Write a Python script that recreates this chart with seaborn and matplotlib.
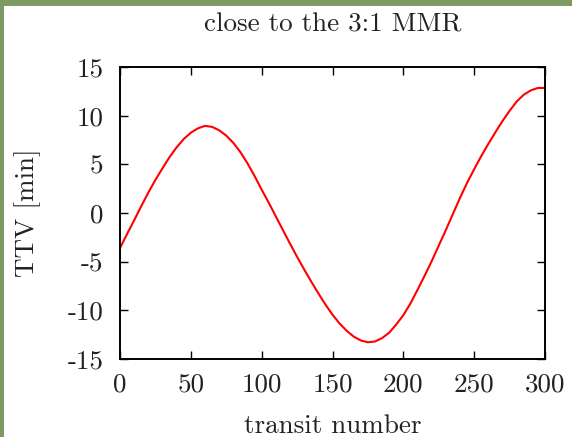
import matplotlib
matplotlib.use("Agg")
import matplotlib.pyplot as plt
import seaborn as sns
import pandas as pd
from matplotlib.patches import Rectangle

transit = list(range(0, 301, 5))
ttv = [-3.6, -2.15, -0.75, 0.7, 2.1, 3.4, 4.6, 5.75, 6.75, 7.6,
       8.25, 8.7, 8.95, 8.85, 8.5, 7.95, 7.2, 6.25, 5.1, 3.8,
       2.4, 1.05, -0.35, -1.75, -3.15, -4.5, -5.8, -7.05, -8.25, -9.4,
       -10.45, -11.35, -12.1, -12.7, -13.1, -13.28, -13.2, -12.85, -12.3, -11.45,
       -10.5, -9.3, -7.9, -6.45, -4.95, -3.35, -1.75, -0.1, 1.55, 3.1,
       4.5, 5.85, 7.1, 8.3, 9.45, 10.5, 11.45, 12.15, 12.6, 12.85,
       12.85]

x_ticks = [0, 50, 100, 150, 200, 250, 300]
x_ticklabels = ["0", "50", "100", "150", "200", "250", "300"]
y_ticks = [-15, -10, -5, 0, 5, 10, 15]
y_ticklabels = ["-15", "-10", "-5", "0", "5", "10", "15"]

title = "close to the 3:1 MMR"
xlabel = "transit number"
ylabel = "TTV [min]"

sns.set_theme(style="ticks")
plt.rcParams["font.family"] = ["cmr10", "DejaVu Serif"]
plt.rcParams["axes.formatter.use_mathtext"] = True

df = pd.DataFrame({"transit": transit, "ttv": ttv})

fig = plt.figure(figsize=(5.72, 4.37), dpi=100, facecolor="white")
ax = fig.add_axes([120 / 572, 1 - 359 / 437, 425 / 572, 292 / 437])

sns.lineplot(data=df, x="transit", y="ttv", ax=ax, color="#ff0000", linewidth=1.5)

fs = 19.5
ax.set_xlim(0, 300)
ax.set_ylim(-15, 15)
ax.set_xticks(x_ticks)
ax.set_xticklabels(x_ticklabels)
ax.set_yticks(y_ticks)
ax.set_yticklabels(y_ticklabels)
ax.tick_params(direction="in", length=6, width=1.0, color="black",
               top=True, right=True, labelsize=fs, labelcolor="#222222")
ax.tick_params(axis="x", pad=10)
ax.tick_params(axis="y", pad=12)
for s in ax.spines.values():
    s.set_visible(True)
    s.set_linewidth(1.4)
    s.set_color("black")

ax.set_xlabel(xlabel, fontsize=fs, color="#222222", labelpad=13)
ax.set_ylabel(ylabel, fontsize=fs, color="#222222", labelpad=19)
fig.text(333 / 572, 1 - 25 / 437, title, ha="center", va="center",
         fontsize=fs, color="#222222")

green = "#7e9a62"
fig.patches.append(Rectangle((0, 1 - 6 / 437), 1, 6 / 437, transform=fig.transFigure,
                             facecolor=green, edgecolor="none", zorder=10))
fig.patches.append(Rectangle((0, 0), 4 / 572, 1, transform=fig.transFigure,
                             facecolor=green, edgecolor="none", zorder=10))

fig.savefig("out.png", dpi=100, facecolor="white")
